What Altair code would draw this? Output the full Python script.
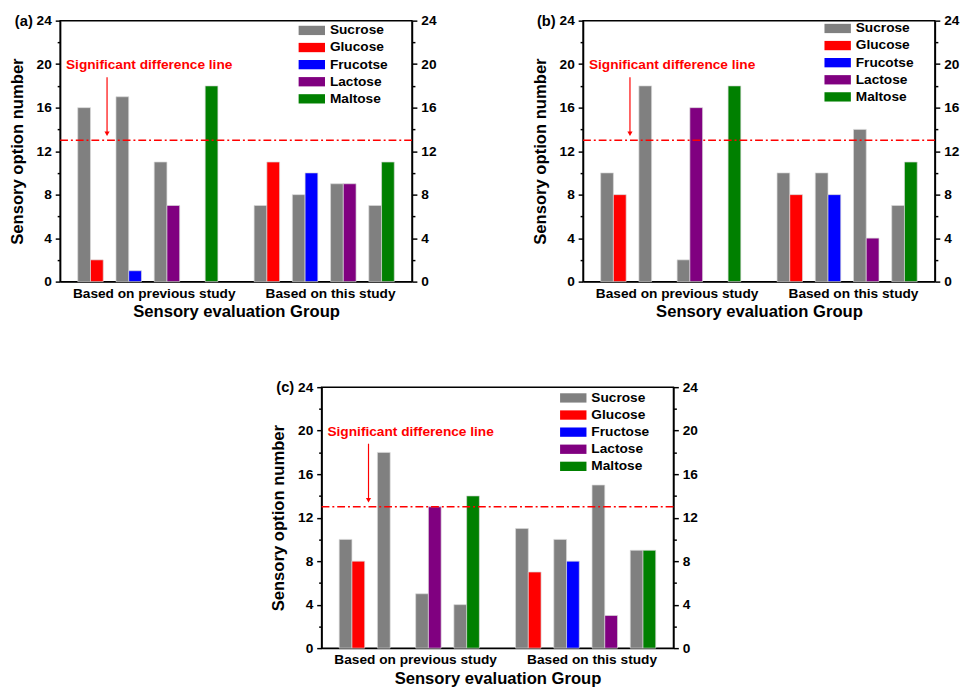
import altair as alt
import pandas as pd

# ---------------- data ----------------
groups = ["Based on previous study"] * 4 + ["Based on this study"] * 4
partners_ab = ["Glucose", "Frucotse", "Lactose", "Maltose"] * 2
partners_c = ["Glucose", "Fructose", "Lactose", "Maltose"] * 2

a_sucrose = [16, 17, 11, 0, 7, 8, 9, 7]
a_partner = [2, 1, 7, 18, 11, 10, 9, 11]
b_sucrose = [10, 18, 2, 0, 10, 10, 14, 7]
b_partner = [8, 0, 16, 18, 8, 8, 4, 11]
c_sucrose = [10, 18, 5, 4, 11, 10, 15, 9]
c_partner = [8, 0, 13, 14, 7, 8, 3, 9]

legend_ab = ["Sucrose", "Glucose", "Frucotse", "Lactose", "Maltose"]
legend_c = ["Sucrose", "Glucose", "Fructose", "Lactose", "Maltose"]
sugar_colors = ["#808080", "#FF0000", "#0000FF", "#800080", "#008000"]

group_order = ["Based on previous study", "Based on this study"]
slot_order = ["1a", "1b", "1c", "2a", "2b", "2c", "3a", "3b", "3c", "4a", "4b", "4c"]
y_ticks = list(range(0, 25, 2))
threshold = [13]
note_text = ["Significant difference line"]
note_y = [19.9]
arrow_top = [18.8]
arrow_tip = [13.6]

FONT = "Liberation Sans"
RECT = "M-1,-0.68H2.857V0.68H-1Z"


def make_df(suc, par, partners):
    rows = []
    for i in range(8):
        k = i % 4 + 1
        if suc[i] > 0:
            rows.append({"group": groups[i], "slot": f"{k}a", "sugar": "Sucrose", "value": suc[i]})
        if par[i] > 0:
            rows.append({"group": groups[i], "slot": f"{k}b", "sugar": partners[i], "value": par[i]})
    return pd.DataFrame(rows)


ydom = alt.Scale(domain=[0, 24], nice=False)


def panel(tag, suc, par, partners, legend_names, leg_x, leg_y):
    df = make_df(suc, par, partners)
    left_axis = alt.Axis(
        values=y_ticks,
        labelExpr="datum.value % 4 === 0 ? datum.label : ''",
        tickSize={"condition": {"test": "datum.value % 4 === 0", "value": 5}, "value": 3},
        tickColor="black", tickWidth=1.5, domainColor="black", domainWidth=1.5,
        labelFontSize=14, labelFontWeight="bold", labelColor="black", labelPadding=4,
        title="Sensory option number", titleFontSize=17, titleFontWeight="bold",
        titleColor="black", titlePadding=10, grid=False,
    )
    right_axis = alt.Axis(
        orient="right",
        values=y_ticks,
        labelExpr="datum.value % 4 === 0 ? datum.label : ''",
        tickSize={"condition": {"test": "datum.value % 4 === 0", "value": 5}, "value": 3},
        tickColor="black", tickWidth=1.5, domainColor="black", domainWidth=1.5,
        labelFontSize=14, labelFontWeight="bold", labelColor="black", labelPadding=4,
        title=None, grid=False,
    )
    bars = alt.Chart(df).mark_bar(stroke="#d9d9d9", strokeWidth=0.7).encode(
        x=alt.X(
            "group:N",
            sort=group_order,
            scale=alt.Scale(domain=group_order, paddingInner=0.133, paddingOuter=0.064, align=0.78),
            axis=alt.Axis(
                labelAngle=0, ticks=False, tickSize=0, domainColor="black", domainWidth=1.5,
                labelFontSize=14, labelFontWeight="bold", labelColor="black", labelPadding=5,
                title="Sensory evaluation Group", titleFontSize=17, titleFontWeight="bold",
                titleColor="black", titlePadding=4,
            ),
        ),
        xOffset=alt.XOffset("slot:N", scale=alt.Scale(domain=slot_order, paddingInner=0, paddingOuter=0)),
        y=alt.Y("value:Q", scale=ydom, axis=left_axis),
        color=alt.Color(
            "sugar:N",
            scale=alt.Scale(domain=legend_names, range=sugar_colors),
            legend=alt.Legend(
                orient="none", legendX=leg_x, legendY=leg_y, title=None, padding=0,
                symbolType=RECT, symbolSize=196, symbolStrokeWidth=0, symbolOpacity=1,
                labelFontSize=14, labelFontWeight="bold", labelColor="black",
                labelOffset=18, rowPadding=3.5, labelFont=FONT,
            ),
        ),
    )
    thr = alt.Chart(pd.DataFrame({"v": threshold})).mark_rule(
        color="#FF0000", strokeWidth=1.6, strokeDash=[8, 3, 2, 3]
    ).encode(y=alt.Y("v:Q", scale=ydom, axis=right_axis))
    note = alt.Chart(pd.DataFrame({"t": note_text, "y": note_y})).mark_text(
        align="left", baseline="middle", color="#FF0000", fontSize=14, fontWeight="bold", font=FONT
    ).encode(text="t:N", x=alt.value(6), y=alt.Y("y:Q", scale=ydom, axis=None))
    arrow = alt.Chart(pd.DataFrame({"y": arrow_top, "y2": arrow_tip})).mark_rule(
        color="#FF0000", strokeWidth=1.2
    ).encode(x=alt.value(48), y=alt.Y("y:Q", scale=ydom, axis=None), y2="y2:Q")
    head = alt.Chart(pd.DataFrame({"y": arrow_tip})).mark_point(
        shape="triangle-down", filled=True, color="#FF0000", size=28, opacity=1
    ).encode(x=alt.value(48), y=alt.Y("y:Q", scale=ydom, axis=None))
    label = alt.Chart(pd.DataFrame({"t": [tag]})).mark_text(
        align="right", baseline="middle", fontSize=15, fontWeight="bold", color="black", font=FONT
    ).encode(text="t:N", x=alt.value(-28), y=alt.value(0))
    return alt.layer(bars, thr, note, arrow, head, label).resolve_scale(y="independent").properties(
        width=360, height=267
    )


pa = panel("(a)", a_sucrose, a_partner, partners_ab, legend_ab, 244, 3)
pb = panel("(b)", b_sucrose, b_partner, partners_ab, legend_ab, 247, 1)
pc = panel("(c)", c_sucrose, c_partner, partners_c, legend_c, 244, 4)

top = alt.hconcat(pa, pb, spacing=95).resolve_scale(color="independent").resolve_legend(color="independent")
chart = (
    alt.vconcat(top, pc, spacing=60, center=True)
    .resolve_scale(color="independent")
    .resolve_legend(color="independent")
    .properties(padding={"left": 0, "top": -3, "right": 0, "bottom": 0})
    .configure(font=FONT)
    .configure_view(stroke="black", strokeWidth=1.5)
)

chart.save("out.html", embed_options={"renderer": "svg", "actions": False})
